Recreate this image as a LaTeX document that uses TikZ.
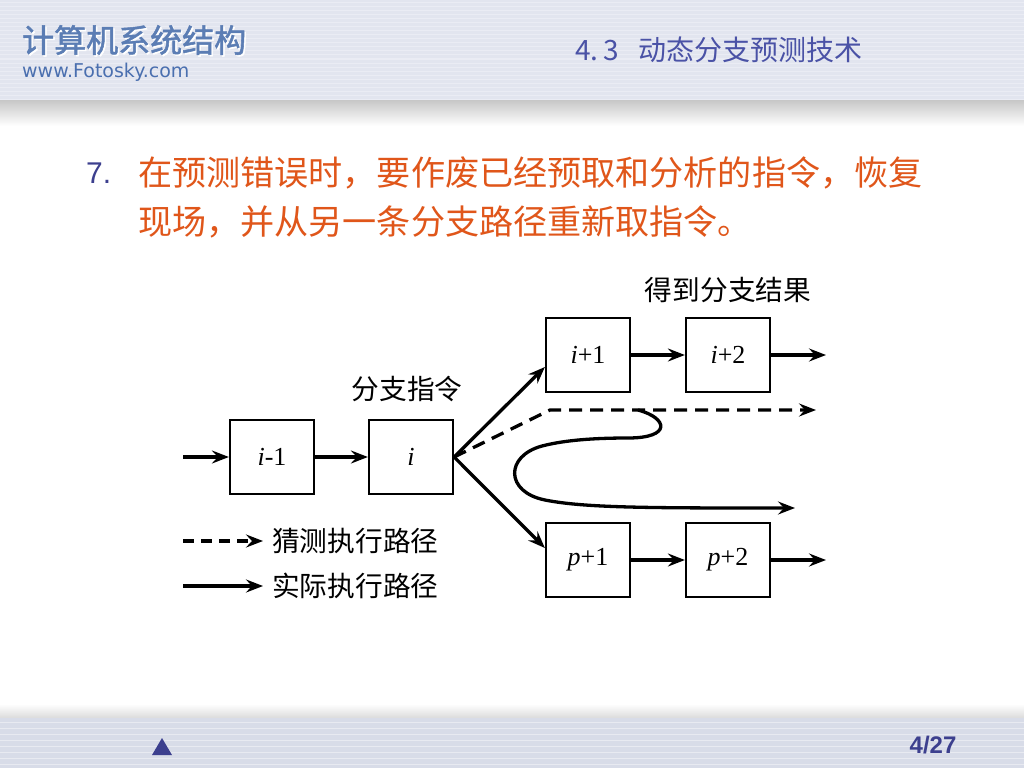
\documentclass[tikz,border=0pt]{standalone}
\usepackage{fontspec}
\setmainfont{Liberation Serif}
\newfontfamily\cjk{Noto Sans CJK SC}
\newfontfamily\cjkb[FakeBold=1.6]{Noto Sans CJK SC}
\newfontfamily\dvs{DejaVu Sans}
\newfontfamily\lsans{Liberation Sans}
\usetikzlibrary{arrows.meta}
\definecolor{hdr}{HTML}{E2E5EF}
\definecolor{hdrline}{HTML}{EAECF4}
\definecolor{ftr}{HTML}{D8DCE8}
\definecolor{navy}{HTML}{3C3F8E}
\definecolor{orng}{HTML}{E0561A}
\definecolor{steel}{HTML}{5B7DB4}
\definecolor{urlc}{HTML}{4A6FAF}
\definecolor{sec}{HTML}{4A52A6}
\tikzset{
  blk/.style={draw=black, line width=2.2pt, minimum width=84pt, minimum height=74pt, inner sep=0pt, font=\fontsize{26}{30}\selectfont},
  arr/.style={line width=3.3pt, -{Stealth[length=17pt,width=13pt,inset=6pt]}},
  darr/.style={arr, dash pattern=on 13pt off 8pt},
  lbl/.style={font=\cjk\fontsize{27.7}{32}\selectfont, inner sep=0pt},
}
\begin{document}
\begin{tikzpicture}[x=1pt,y=-1pt]
\useasboundingbox (0,0) rectangle (1024,768);
\fill[white] (0,0) rectangle (1024,768);
% header
\fill[hdr] (0,0) rectangle (1024,100);
\foreach \yy in {3,7,...,99} \draw[hdrline, line width=1pt] (0,\yy) -- (1024,\yy);
\shade[top color=black!22, bottom color=white] (0,100) rectangle (1024,126);
\node[anchor=west, inner sep=0pt, text=white, font=\cjkb\fontsize{32}{36}\selectfont] at (23.5,41.5) {计算机系统结构};
\node[anchor=west, inner sep=0pt, text=steel, font=\cjkb\fontsize{32}{36}\selectfont] (htitle) at (22,40) {计算机系统结构};
\node[anchor=west, inner sep=0pt, text=urlc, font=\dvs\fontsize{19}{22}\selectfont] (hurl) at (22,72) {www.Fotosky.com};
\node[anchor=west, inner sep=0pt, text=sec, font=\cjk\fontsize{28}{32}\selectfont] (hsec) at (575,50) {4.\,3\hspace{20pt}动态分支预测技术};
% footer
\shade[top color=white, bottom color=black!14] (0,704) rectangle (1024,718);
\fill[ftr] (0,718) rectangle (1024,768);
\foreach \yy in {722,728,...,766} \draw[ftr!60!white, line width=0.8pt] (0,\yy) -- (1024,\yy);
\fill[navy] (152,755) -- (162,738) -- (172,755) -- cycle;
\node[inner sep=0pt, text=navy, font=\lsans\bfseries\fontsize{24}{27}\selectfont] (pg) at (933,745) {4/27};
% title text
\node[anchor=west, inner sep=0pt, text=navy, font=\lsans\fontsize{30}{34}\selectfont] (num) at (86,173) {7.};
\node[anchor=west, inner sep=0pt, text=orng, font=\cjk\fontsize{34.1}{40}\selectfont] (t1) at (138,173) {在预测错误时，要作废已经预取和分析的指令，恢复};
\node[anchor=west, inner sep=0pt, text=orng, font=\cjk\fontsize{34.1}{40}\selectfont] (t2) at (138,222) {现场，并从另一条分支路径重新取指令。};
% diagram
\node[blk] (b0) at (272,457) {\textit{i}-1};
\node[blk] (b1) at (411,457) {\textit{i}};
\node[blk] (b2) at (588,355) {\textit{i}+1};
\node[blk] (b3) at (728,355) {\textit{i}+2};
\node[blk] (b4) at (588,560) {\textit{p}+1};
\node[blk] (b5) at (728,560) {\textit{p}+2};
\node[lbl] (lb1) at (407,389) {分支指令};
\node[lbl] (lb2) at (728,290) {得到分支结果};
\coordinate (in) at (183,457);
\coordinate (o1) at (826,355);
\coordinate (o2) at (826,560);
\coordinate (d1) at (550,410);
\coordinate (d2) at (816,410);
\coordinate (c0) at (638,410);
\coordinate (ce) at (795,508);
\draw[arr] (in) -- (b0.west);
\draw[arr] (b0) -- (b1);
\draw[arr] (b1.east) -- ([yshift=-12pt]b2.west);
\draw[arr] (b1.east) -- ([yshift=12pt]b4.west);
\draw[arr] (b2) -- (b3);
\draw[arr] (b3.east) -- (o1);
\draw[arr] (b4) -- (b5);
\draw[arr] (b5.east) -- (o2);
\draw[darr] (b1.east) -- (d1) -- (d2);
\draw[arr] (c0) .. controls (668,418) and (672,438) .. (628,438)
  .. controls (595,438) and (565,440) .. (542,446)
  .. controls (505,456) and (505,492) .. (545,500)
  .. controls (585,508) and (650,508) .. (ce);
% legend
\coordinate (l1a) at (183,541);
\coordinate (l1b) at (263,541);
\coordinate (l2a) at (183,586);
\coordinate (l2b) at (263,586);
\draw[darr, dash pattern=on 11pt off 7pt] (l1a) -- (l1b);
\draw[arr] (l2a) -- (l2b);
\node[lbl, anchor=west] (lg1) at (272,541) {猜测执行路径};
\node[lbl, anchor=west] (lg2) at (272,586) {实际执行路径};
\end{tikzpicture}
\end{document}
